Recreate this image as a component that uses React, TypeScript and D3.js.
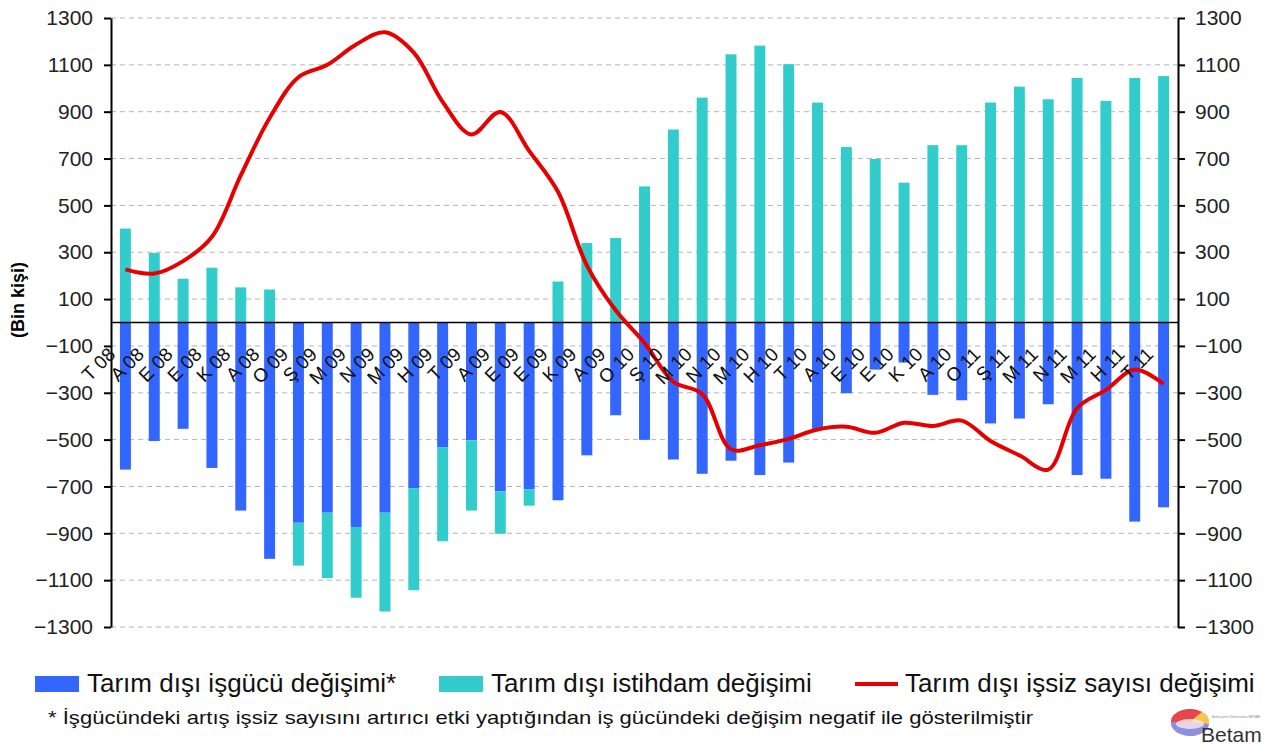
import React, { useEffect, useRef } from "react";
import * as d3 from "d3";

// monthly labels, Temmuz 2008 - Temmuz 2011
const months = [
  "T 08", "A 08", "E 08", "E 08", "K 08", "A 08",
  "O 09", "Ş 09", "M 09", "N 09", "M 09", "H 09", "T 09", "A 09", "E 09", "E 09", "K 09", "A 09",
  "O 10", "Ş 10", "M 10", "N 10", "M 10", "H 10", "T 10", "A 10", "E 10", "E 10", "K 10", "A 10",
  "O 11", "Ş 11", "M 11", "N 11", "M 11", "H 11", "T 11"
];

// işgücü değişimi (negatif gösterilir)
const labourForce = [
  -628, -506, -454, -621, -803, -1009, -855, -812, -873, -812, -707, -532, -503,
  -721, -712, -759, -567, -396, -501, -585, -646, -590, -651, -598, -454, -302,
  -201, -171, -309, -332, -431, -410, -349, -651, -667, -850, -789
];

// istihdam değişimi
const employment = [
  401, 297, 187, 234, 150, 141, -183, -279, -302, -422, -436, -402, -300,
  -181, -70, 175, 339, 361, 581, 824, 960, 1145, 1182, 1103, 939, 749,
  698, 597, 757, 757, 939, 1007, 953, 1044, 946, 1044, 1052
];

// işsiz sayısı değişimi
const unemployment = [
  227, 209, 262, 366, 628, 873, 1047, 1100, 1187, 1239, 1152, 942, 803,
  899, 733, 558, 244, 52, -87, -253, -305, -541, -524, -497, -457, -445,
  -471, -428, -442, -419, -506, -567, -628, -366, -288, -201, -262
];

const yTicks = [1300, 1100, 900, 700, 500, 300, 100, -100, -300, -500, -700, -900, -1100, -1300];

const legendNames = [
  "Tarım dışı işgücü değişimi*",
  "Tarım dışı istihdam değişimi",
  "Tarım dışı işsiz sayısı değişimi"
];
const footnote =
  "* İşgücündeki artış işsiz sayısını artırıcı etki yaptığından iş gücündeki değişim negatif ile gösterilmiştir";

const BLUE = "#3366ff";
const CYAN = "#33cccc";
const RED = "#e60000";
const FONT = "'Liberation Sans', Arial, sans-serif";

export default function App() {
  const ref = useRef<SVGSVGElement>(null);

  useEffect(() => {
    const width = 1266, height = 745;
    const left = 111, right = 1178, top = 18, bottom = 627;

    const svg = d3.select(ref.current);
    svg.selectAll("*").remove();
    svg.attr("width", width).attr("height", height);

    const x = d3.scaleBand<number>()
      .domain(months.map((_, i) => i))
      .range([left, right])
      .paddingInner(0.62)
      .paddingOuter(0.31);
    const y = d3.scaleLinear().domain([-1300, 1300]).range([bottom, top]);
    const cx = (i: number) => (x(i) as number) + x.bandwidth() / 2;

    // grid
    svg.append("g")
      .selectAll("line")
      .data(yTicks)
      .join("line")
      .attr("x1", left).attr("x2", right)
      .attr("y1", d => y(d)).attr("y2", d => y(d))
      .attr("stroke", "#b4b4b4")
      .attr("stroke-dasharray", "5,4");

    // stacked bars
    const rows = months.map((_, i) => ({ i, lf: labourForce[i], emp: employment[i] }));
    const series = d3.stack<any>()
      .keys(["lf", "emp"])
      .offset(d3.stackOffsetDiverging)(rows);
    const colors = [BLUE, CYAN];

    svg.append("g")
      .selectAll("g")
      .data(series)
      .join("g")
      .attr("fill", (_, k) => colors[k])
      .selectAll("rect")
      .data(d => d)
      .join("rect")
      .attr("x", d => x(d.data.i) as number)
      .attr("width", x.bandwidth())
      .attr("y", d => y(Math.max(d[0], d[1])))
      .attr("height", d => Math.abs(y(d[0]) - y(d[1])));

    // zero line
    svg.append("line")
      .attr("x1", left).attr("x2", right)
      .attr("y1", y(0)).attr("y2", y(0))
      .attr("stroke", "#000").attr("stroke-width", 1.5);

    // axes
    const styleAxis = (g: any) => {
      g.select(".domain").attr("stroke", "#000").attr("stroke-width", 2);
      g.selectAll(".tick line").attr("stroke", "#000").attr("stroke-width", 2);
      g.selectAll("text")
        .attr("font-family", FONT)
        .attr("font-size", 21)
        .attr("fill", "#222");
    };
    svg.append("g")
      .attr("transform", `translate(${left},0)`)
      .call(d3.axisLeft(y).tickValues(yTicks).tickFormat(d3.format("d")).tickSize(7).tickSizeOuter(0).tickPadding(11))
      .call(styleAxis);
    svg.append("g")
      .attr("transform", `translate(${right},0)`)
      .call(d3.axisRight(y).tickValues(yTicks).tickFormat(d3.format("d")).tickSize(7).tickSizeOuter(0).tickPadding(10))
      .call(styleAxis);

    // red line
    const line = d3.line<number>()
      .x((_, i) => cx(i))
      .y(d => y(d))
      .curve(d3.curveCatmullRom.alpha(0.5));
    svg.append("path")
      .datum(unemployment)
      .attr("d", line)
      .attr("fill", "none")
      .attr("stroke", RED)
      .attr("stroke-width", 4)
      .attr("stroke-linejoin", "round");

    // category labels
    svg.append("g")
      .selectAll("text")
      .data(months)
      .join("text")
      .attr("transform", (_, i) => `translate(${cx(i) - 9},${y(0) + 33}) rotate(-45)`)
      .attr("text-anchor", "end")
      .attr("font-family", FONT)
      .attr("font-size", 19)
      .attr("fill", "#111")
      .text(d => d);

    // y title
    svg.append("text")
      .attr("transform", `translate(24,${300}) rotate(-90)`)
      .attr("text-anchor", "middle")
      .attr("font-family", FONT)
      .attr("font-size", 18)
      .attr("font-weight", "bold")
      .text("(Bin kişi)");

    // legend
    const lg = svg.append("g").attr("font-family", FONT).attr("font-size", 26).attr("fill", "#111");
    lg.append("rect").attr("x", 35).attr("y", 676).attr("width", 44).attr("height", 16).attr("fill", BLUE);
    lg.append("text").attr("x", 87).attr("y", 692).text(legendNames[0]);
    lg.append("rect").attr("x", 439).attr("y", 676).attr("width", 44).attr("height", 16).attr("fill", CYAN);
    lg.append("text").attr("x", 491).attr("y", 692).text(legendNames[1]);
    lg.append("line").attr("x1", 855).attr("x2", 898).attr("y1", 684).attr("y2", 684)
      .attr("stroke", RED).attr("stroke-width", 4);
    lg.append("text").attr("x", 905).attr("y", 692).text(legendNames[2]);

    svg.append("text")
      .attr("x", 48).attr("y", 724)
      .attr("font-family", FONT)
      .attr("font-size", 19)
      .attr("textLength", 985)
      .attr("lengthAdjust", "spacingAndGlyphs")
      .attr("fill", "#111")
      .text(footnote);

    // Betam logo
    const logo = svg.append("g").attr("transform", "translate(1190,722)");
    logo.append("ellipse").attr("rx", 19).attr("ry", 13).attr("fill", "#b9a9e6");
    logo.append("path").attr("d", "M-19,0 A19,13 0 0 1 12,-10 L0,0 Z").attr("fill", "#e8454a");
    logo.append("path").attr("d", "M12,-10 A19,13 0 0 1 19,2 L0,0 Z").attr("fill", "#f5c84a");
    logo.append("path").attr("d", "M-19,0 A19,13 0 0 0 19,2 L0,0 Z").attr("fill", "#8f8fe0");
    logo.append("ellipse").attr("rx", 14).attr("ry", 5).attr("cy", 2).attr("fill", "#fbe8e8").attr("opacity", 0.8);
    svg.append("text")
      .attr("x", 1201).attr("y", 742)
      .attr("font-family", FONT)
      .attr("font-size", 21)
      .attr("fill", "#333")
      .text("Betam");
    svg.append("text")
      .attr("x", 1212).attr("y", 718)
      .attr("font-family", FONT)
      .attr("font-size", 3)
      .attr("textLength", 48)
      .attr("lengthAdjust", "spacingAndGlyphs")
      .attr("fill", "#888")
      .text("Bahçeşehir Üniversitesi BETAM");
  }, []);

  return (
    <svg ref={ref} style={{ position: "absolute", left: 0, top: 0, background: "#fff" }} />
  );
}
